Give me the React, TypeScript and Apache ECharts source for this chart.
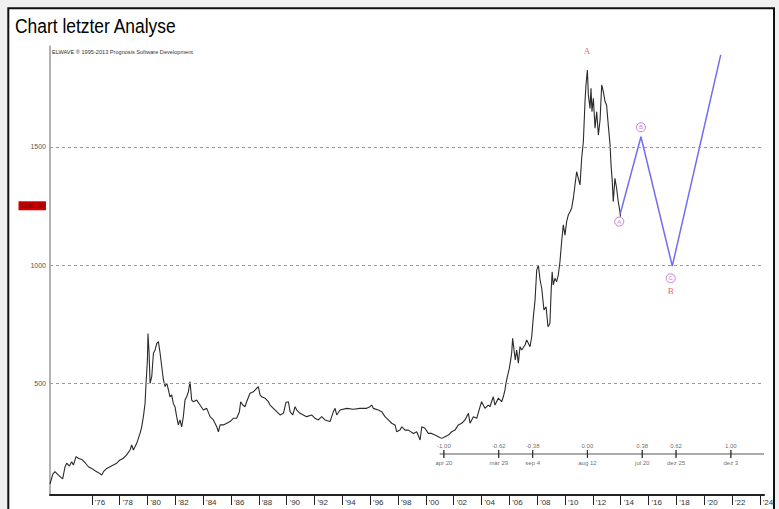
import React, { useEffect, useRef } from 'react';
import * as echarts from 'echarts';

const yearTicks = [1976, 1978, 1980, 1982, 1984, 1986, 1988, 1990, 1992, 1994, 1996, 1998, 2000, 2002, 2004, 2006, 2008, 2010, 2012, 2014, 2016, 2018, 2020, 2022, 2024];
const priceLevels = [500, 1000, 1500];
const currentPrice = 1251;

const priceYears = [
  1973.00, 1973.20, 1973.36, 1973.53, 1973.72, 1973.91, 1974.08, 1974.20, 1974.39, 1974.56, 1974.68, 1974.87,
  1975.04, 1975.28, 1975.52, 1975.76, 1976.00, 1976.24, 1976.48, 1976.72, 1976.84, 1977.08, 1977.31, 1977.55,
  1977.79, 1978.03, 1978.27, 1978.51, 1978.75, 1978.87, 1978.99, 1979.23, 1979.47, 1979.59, 1979.71, 1979.83,
  1979.90, 1980.00, 1980.04, 1980.12, 1980.19, 1980.31, 1980.43, 1980.55, 1980.67, 1980.79, 1980.91, 1981.03,
  1981.15, 1981.27, 1981.39, 1981.51, 1981.62, 1981.74, 1981.86, 1981.98, 1982.10, 1982.22, 1982.34, 1982.46,
  1982.58, 1982.70, 1982.82, 1982.94, 1983.06, 1983.18, 1983.30, 1983.54, 1983.78, 1984.02, 1984.26, 1984.50,
  1984.74, 1984.98, 1985.10,
  1985.22, 1985.46, 1985.70, 1985.94, 1986.17, 1986.41, 1986.61, 1986.70, 1986.85, 1987.01, 1987.13, 1987.37,
  1987.61, 1987.85, 1987.97, 1988.09, 1988.21, 1988.45, 1988.69, 1988.81, 1989.05, 1989.29, 1989.53, 1989.77,
  1989.96, 1990.13, 1990.25, 1990.44, 1990.61, 1990.73, 1990.96, 1991.20, 1991.44, 1991.80, 1992.04, 1992.28,
  1992.52, 1992.76, 1993.12, 1993.36, 1993.48, 1993.60, 1993.84, 1994.32, 1994.80, 1995.27, 1995.75, 1995.99,
  1996.11, 1996.23, 1996.59, 1996.83, 1997.07, 1997.31, 1997.55, 1997.79, 1997.91, 1998.15, 1998.27, 1998.51,
  1998.75, 1999.11, 1999.35, 1999.59, 1999.71, 1999.94, 2000.18, 2000.42, 2000.66, 2000.90, 2001.14,
  2001.38, 2001.62, 2001.86, 2002.10, 2002.34, 2002.58, 2002.82, 2003.06, 2003.18, 2003.42, 2003.66, 2003.90,
  2004.01, 2004.25, 2004.49, 2004.61, 2004.85, 2004.97, 2005.21, 2005.45, 2005.57, 2005.69, 2005.76, 2005.86,
  2006.00, 2006.10, 2006.17, 2006.24, 2006.34, 2006.43, 2006.53, 2006.65, 2006.77, 2006.89, 2007.13, 2007.25,
  2007.37, 2007.49, 2007.61, 2007.73, 2007.85, 2007.97, 2008.09, 2008.21, 2008.33, 2008.49, 2008.64, 2008.78,
  2008.92, 2009.00, 2009.08, 2009.16, 2009.28, 2009.40, 2009.52, 2009.64, 2009.76, 2009.88, 2010.00, 2010.12,
  2010.24, 2010.36, 2010.48, 2010.60, 2010.72, 2010.84, 2010.96, 2011.08, 2011.20, 2011.32, 2011.44, 2011.51,
  2011.61, 2011.68, 2011.80, 2011.87, 2011.94, 2012.04, 2012.16, 2012.28, 2012.40, 2012.52, 2012.64, 2012.76,
  2012.88, 2012.99, 2013.11, 2013.24, 2013.31, 2013.40, 2013.47, 2013.59, 2013.71, 2013.83, 2013.95, 2013.99
];
const priceValues = [
  74, 116, 126, 116, 105, 96, 147, 162, 150, 168, 154, 190,
  183, 178, 164, 147, 140, 130, 122, 112, 126, 140, 147, 154,
  162, 176, 183, 197, 218, 239, 218, 246, 288, 316, 359, 415,
  500, 599, 711, 627, 500, 528, 627, 641, 669, 676, 627, 570,
  514, 486, 500, 472, 443, 451, 415, 401, 359, 324, 345, 316,
  359, 429, 443, 464, 507, 429, 422, 429, 408, 387, 394, 359,
  345, 316, 295,
  324, 324, 331, 338, 352, 352, 380, 422, 408, 401, 422, 458,
  464, 479, 486, 451, 443, 437, 422, 408, 394, 380, 366, 373,
  420, 422, 380, 366, 401, 387, 373, 366, 359, 366, 352, 345,
  359, 345, 338, 380, 394, 366, 387, 394, 390, 394, 394, 401,
  408, 394, 387, 380, 359, 345, 331, 324, 295, 302, 316, 302,
  302, 288, 295, 260, 316, 310, 288, 288, 281, 274, 267,
  274, 281, 295, 302, 324, 331, 345, 373, 331, 359, 352, 401,
  422, 394, 408, 401, 443, 408, 437, 422, 443, 472, 500, 528,
  563, 599, 627, 690, 641, 599, 641, 585, 655, 641, 662, 683,
  669, 655, 697, 782, 852, 979, 1000, 937, 902, 810, 824, 739,
  754, 880, 972, 916, 944, 930, 958, 1014, 1099, 1170, 1127, 1184,
  1212, 1226, 1240, 1283, 1339, 1395, 1367, 1339, 1452, 1522, 1691, 1762,
  1825, 1720, 1663, 1748, 1649, 1706, 1579, 1649, 1550, 1614, 1762, 1733,
  1691, 1677, 1593, 1508, 1423, 1353, 1268, 1367, 1325, 1268, 1226, 1205
];

const projYears = [2013.98, 2015.46, 2017.71, 2021.19];
const projValues = [1219, 1543, 996, 1889];

const circleLabels = ['A', 'B', 'C'];
const circleYears = [2013.9, 2015.46, 2017.6];
const circleValues = [1184, 1583, 944];

const waveLabels = ['A', 'B'];
const waveYears = [2011.58, 2017.6];
const waveValues = [1906, 892];

const fibRatios = ['-1.00', '-0.62', '-0.38', '0.00', '0.38', '0.62', '1.00'];
const fibDates = ['apr 20', 'mär 29', 'sep 4', 'aug 12', 'jul 20', 'dez 25', 'dez 3'];
const fibYears = [2001.30, 2005.24, 2007.68, 2011.61, 2015.55, 2017.98, 2021.92];
const fibRulerStart = 2001.0;
const fibRulerLevel = 201;

const X_MIN = 1973.0;
const X_MAX = 2024.3;
const Y_MIN = 27.5;
const Y_MAX = 1926.8;

export default function App() {
  const ref = useRef<HTMLDivElement>(null);

  useEffect(() => {
    if (!ref.current) return;
    const chart = echarts.init(ref.current, null, { renderer: 'svg' });
    const font = 'Liberation Sans';

    const priceData = priceYears.map((y, i) => [y, priceValues[i]]);
    const projData = projYears.map((y, i) => [y, projValues[i]]);
    const circleData = circleYears.map((y, i) => [y, circleValues[i], circleLabels[i]]);
    const waveData = waveYears.map((y, i) => [y, waveValues[i], waveLabels[i]]);
    const fibTop = fibYears.map((y, i) => [y, fibRulerLevel, fibRatios[i]]);
    const fibBottom = fibYears.map((y, i) => [y, fibRulerLevel, fibDates[i]]);

    const option: any = {
      animation: false,
      backgroundColor: '#f0f0f0',
      textStyle: { fontFamily: font },
      grid: { left: 50, right: 15, top: 46, bottom: 14, containLabel: false, outerBoundsMode: 'none' },
      xAxis: {
        type: 'value',
        min: X_MIN,
        max: X_MAX,
        axisLine: { show: true, lineStyle: { color: '#222', width: 2 } },
        axisTick: { show: true, customValues: yearTicks, length: 10, inside: false, lineStyle: { color: '#222', width: 1 } },
        axisLabel: {
          customValues: yearTicks,
          formatter: (v: number) => "'" + String(Math.round(v)).slice(2),
          fontSize: 8,
          color: '#333',
          align: 'left',
          margin: 3,
          padding: [0, 0, 0, 3],
          fontFamily: font,
        },
        splitLine: { show: false },
      },
      yAxis: {
        type: 'value',
        min: Y_MIN,
        max: Y_MAX,
        axisLine: { show: true, lineStyle: { color: '#999', width: 1.5 } },
        axisTick: { show: false },
        axisLabel: {
          customValues: priceLevels,
          formatter: (v: number) => String(Math.round(v)),
          fontSize: 7,
          color: '#555',
          margin: 4,
          fontFamily: font,
        },
        splitLine: { show: false },
      },
      graphic: [
        {
          type: 'rect',
          z: -10,
          shape: { x: 8.3, y: 8.3, width: 765.7, height: 520 },
          style: { fill: '#ffffff', stroke: 'none' },
        },
        {
          type: 'rect',
          z: 100,
          shape: { x: 8.3, y: 8.3, width: 765.7, height: 520 },
          style: { fill: 'none', stroke: '#111', lineWidth: 2 },
        },
        {
          type: 'text',
          x: 15,
          y: 25.5,
          scaleX: 0.83,
          style: { text: 'Chart letzter Analyse', fontSize: 21, fontFamily: font, fill: '#000', verticalAlign: 'middle' },
        },
        {
          type: 'text',
          x: 52,
          y: 51.5,
          style: { text: 'ELWAVE \u00ae 1995-2013 Prognosis Software Development', fontSize: 5.6, fontFamily: font, fill: '#333', verticalAlign: 'middle' },
        },
      ],
      series: [
        {
          type: 'line',
          name: 'Kurs',
          data: priceData,
          showSymbol: false,
          lineStyle: { color: '#2a2a2a', width: 1.1 },
          z: 3,
          markLine: {
            silent: true,
            symbol: ['none', 'none'],
            animation: false,
            data: [
              ...priceLevels.map((v) => ({
                yAxis: v,
                lineStyle: { type: [3, 3], color: '#9a9a9a', width: 1 },
                label: { show: false },
              })),
              {
                yAxis: currentPrice,
                lineStyle: { color: 'rgba(0,0,0,0)', width: 1 },
                label: {
                  show: true,
                  position: 'start',
                  formatter: currentPrice.toFixed(2),
                  backgroundColor: '#cc0000',
                  color: '#3a0000',
                  fontSize: 6.5,
                  fontFamily: font,
                  padding: [1, 2, 1, 2],
                  distance: 4,
                },
              },
            ],
          },
        },
        {
          type: 'line',
          name: 'Projektion',
          data: projData,
          showSymbol: false,
          lineStyle: { color: '#6e6ef2', width: 1.5 },
          z: 4,
        },
        {
          type: 'line',
          name: 'Fib',
          data: [[fibRulerStart, fibRulerLevel], [X_MAX, fibRulerLevel]],
          showSymbol: false,
          lineStyle: { color: '#aaaaaa', width: 2 },
          z: 2,
        },
        {
          type: 'scatter',
          data: fibTop,
          symbol: 'rect',
          symbolSize: [1, 8],
          itemStyle: { color: '#222' },
          label: {
            show: true,
            position: 'top',
            distance: 1,
            formatter: (p: any) => p.data[2],
            fontSize: 6,
            color: '#444',
            fontFamily: font,
          },
          z: 5,
        },
        {
          type: 'scatter',
          data: fibBottom,
          symbol: 'rect',
          symbolSize: [1, 8],
          itemStyle: { color: '#222' },
          label: {
            show: true,
            position: 'bottom',
            distance: 2,
            formatter: (p: any) => p.data[2],
            fontSize: 6,
            color: '#444',
            fontFamily: font,
          },
          z: 5,
        },
        {
          type: 'scatter',
          data: circleData,
          symbol: 'circle',
          symbolSize: 9,
          itemStyle: { color: '#ffffff', borderColor: '#c060c0', borderWidth: 1 },
          label: {
            show: true,
            position: 'inside',
            formatter: (p: any) => p.data[2],
            fontSize: 6,
            color: '#c060c0',
            fontFamily: font,
          },
          z: 6,
        },
        {
          type: 'scatter',
          data: waveData,
          symbolSize: 0,
          itemStyle: { color: 'transparent' },
          label: {
            show: true,
            position: 'inside',
            formatter: (p: any) => p.data[2],
            fontSize: 9,
            color: '#e04040',
            fontFamily: 'Liberation Serif',
          },
          z: 6,
        },
      ],
    };

    chart.setOption(option);
    return () => chart.dispose();
  }, []);

  return <div ref={ref} style={{ position: 'fixed', left: 0, top: 0, width: 779, height: 509 }} />;
}
